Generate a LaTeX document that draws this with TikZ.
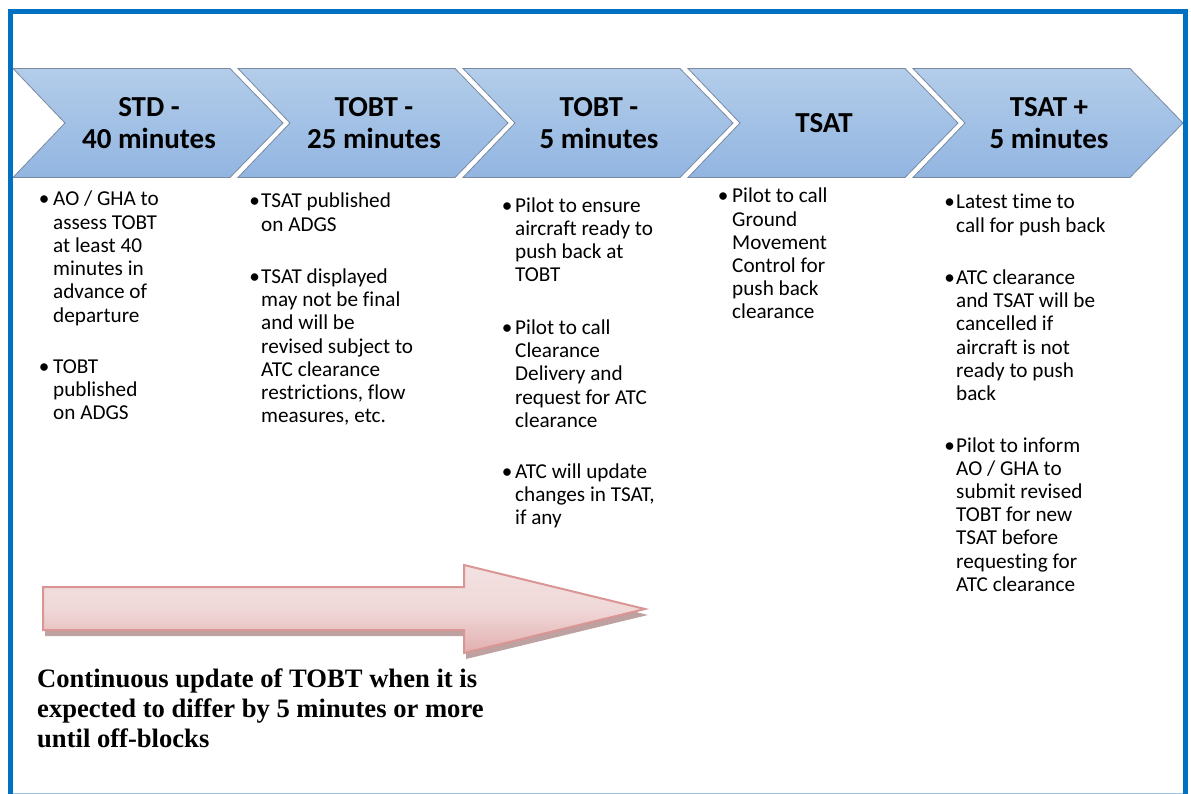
\documentclass[tikz,border=0pt]{standalone}
\usepackage{fontspec}
\setmainfont{Carlito}[Ligatures=NoCommon]
\newfontfamily\timesfont{Liberation Serif}
\definecolor{frameblue}{HTML}{0070C0}
\definecolor{framelight}{HTML}{9DC3E6}
\definecolor{chevtop}{HTML}{B3CDEA}
\definecolor{chevbot}{HTML}{92B5E1}
\definecolor{chevline}{HTML}{7A8AA0}
\definecolor{arrowline}{HTML}{D99694}
\definecolor{arrowshadow}{HTML}{B39090}
\definecolor{arrowtop}{HTML}{F3E1E1}
\definecolor{arrowmid}{HTML}{F0D8D8}
\definecolor{arrowbot}{HTML}{E2AFAF}
\newcommand\bul[1]{\leavevmode\llap{\makebox[0pt][c]{\textbullet}\hspace{#1}}}
\begin{document}
\begin{tikzpicture}[x=1pt,y=-1pt,
  chev/.style={top color=chevtop,bottom color=chevbot,draw=chevline,line width=0.8pt,line join=miter},
  title/.style={font=\bfseries\fontsize{29}{32}\selectfont,align=center,inner sep=0pt},
  body/.style={font=\fontsize{21.2}{23.2}\selectfont,align=left,anchor=base west,inner sep=0pt},
  note/.style={font=\timesfont\bfseries\fontsize{26.6}{30}\selectfont,align=left,anchor=base west,inner sep=0pt},
  bigarrow/.style={top color=arrowtop,bottom color=arrowbot,middle color=arrowmid,draw=arrowline,line width=2pt,line join=miter}]
\useasboundingbox (0,0) rectangle (1191,794);
% chevrons
\foreach \x in {13,238,463,688,913}{
  \path[chev] (\x,68.5) -- ++(217,0) -- ++(53,54.5) -- ++(-53,54.5) -- ++(-217,0) -- ++(52,-54.5) -- cycle;
}
\node[title] (h1) at (149,123) {STD -\\40 minutes};
\node[title] (h2) at (374,123) {TOBT -\\25 minutes};
\node[title] (h3) at (599,123) {TOBT -\\5 minutes};
\node[title] (h4) at (824,123) {TSAT};
\node[title] (h5) at (1049,123) {TSAT +\\5 minutes};
% column 1 (anchored at the baseline of the last line)
\node[body] (c1a) at (53,322) {\bul{9pt}AO / GHA to\\assess TOBT\\at least 40\\minutes in\\advance of\\departure};
\node[body] (c1b) at (53,419.4) {\bul{9pt}TOBT\\published\\on ADGS};
% column 2
\node[body] (c2a) at (261,231.2) {\bul{6.5pt}TSAT published\\on ADGS};
\node[body] (c2b) at (261,422.7) {\bul{6.5pt}TSAT displayed\\may not be final\\and will be\\revised subject to\\ATC clearance\\restrictions, flow\\measures, etc.};
% column 3
\node[body] (c3a) at (515,281.6) {\bul{8pt}Pilot to ensure\\aircraft ready to\\push back at\\TOBT};
\node[body] (c3b) at (515,427.3) {\bul{8pt}Pilot to call\\Clearance\\Delivery and\\request for ATC\\clearance};
\node[body] (c3c) at (515,524.4) {\bul{8pt}ATC will update\\changes in TSAT,\\if any};
% column 4
\node[body] (c4a) at (732,319) {\bul{9pt}Pilot to call\\Ground\\Movement\\Control for\\push back\\clearance};
% column 5
\node[body] (c5a) at (956,232.2) {\bul{6.5pt}Latest time to\\call for push back};
\node[body] (c5b) at (956,400.5) {\bul{6.5pt}ATC clearance\\and TSAT will be\\cancelled if\\aircraft is not\\ready to push\\back};
\node[body] (c5c) at (956,591.2) {\bul{6.5pt}Pilot to inform\\AO / GHA to\\submit revised\\TOBT for new\\TSAT before\\requesting for\\ATC clearance};
% big arrow with shadow
\path[fill=arrowshadow,opacity=0.85] (45,592) -- (466,592) -- (466,570) -- (648,615) -- (466,659) -- (466,636) -- (45,636) -- cycle;
\path[bigarrow] (43,587) -- (464,587) -- (464,565) -- (645,609) -- (464,653) -- (464,630) -- (43,630) -- cycle;
\node[note] (n1) at (37,747) {Continuous update of TOBT when it is\\expected to differ by 5 minutes or more\\until off-blocks};
% frame
\draw[framelight,line width=1pt] (10,793.5) -- (1185,793.5);
\draw[frameblue,line width=5.5pt,line join=miter] (10.3,794) -- (10.3,11.3) -- (1185.5,11.3) -- (1185.5,794);
\end{tikzpicture}
\end{document}
